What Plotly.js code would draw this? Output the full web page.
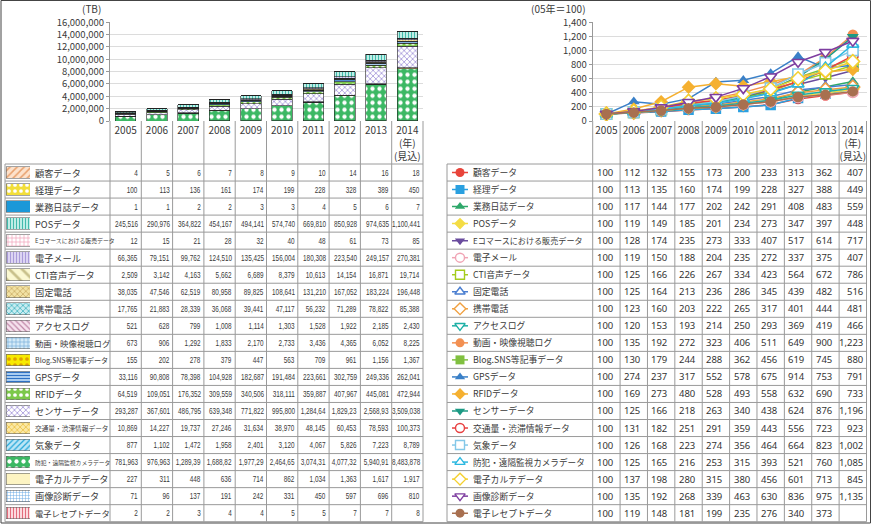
<!DOCTYPE html>
<html><head><meta charset="utf-8">
<script src="https://cdn.plot.ly/plotly-3.0.1.min.js"></script>
<style>html,body{margin:0;padding:0;background:#fff}#chart{width:872px;height:525px}</style>
</head><body><div id="chart"></div>
<script>
// ---------------- DATA ----------------
const years = ['2005','2006','2007','2008','2009','2010','2011','2012','2013','2014'];
const yearTickText = ['2005','2006','2007','2008','2009','2010','2011','2012','2013','2014<br>(年)<br>(見込)'];
const seriesNames = ['顧客データ','経理データ','業務日誌データ','POSデータ','Eコマースにおける販売データ','電子メール','CTI音声データ','固定電話','携帯電話','アクセスログ','動画・映像視聴ログ','Blog.SNS等記事データ','GPSデータ','RFIDデータ','センサーデータ','交通量・渋滞情報データ','気象データ','防犯・遠隔監視カメラデータ','電子カルテデータ','画像診断データ','電子レセプトデータ'];

// Data volume (TB)
const tbCustomer   = [4,5,6,7,8,9,10,14,16,18];
const tbAccounting = [100,113,136,161,174,199,228,328,389,450];
const tbDailyLog   = [1,1,2,2,3,3,4,5,6,7];
const tbPOS        = [245516,290976,364822,454167,494141,574740,669810,850928,974635,1100441];
const tbECommerce  = [12,15,21,28,32,40,48,61,73,85];
const tbEmail      = [66365,79151,99762,124510,135425,156004,180308,223540,249157,270381];
const tbCTI        = [2509,3142,4163,5662,6689,8379,10613,14154,16871,19714];
const tbFixedPhone = [38035,47546,62519,80958,89825,108641,131210,167052,183224,196448];
const tbMobile     = [17765,21883,28339,36068,39441,47117,56232,71289,78822,85388];
const tbAccessLog  = [521,628,799,1008,1114,1303,1528,1922,2185,2430];
const tbVideoLog   = [673,906,1292,1833,2170,2733,3436,4365,6052,8225];
const tbBlogSNS    = [155,202,278,379,447,563,709,961,1156,1367];
const tbGPS        = [33116,90808,78398,104928,182687,191484,223661,302759,249336,262041];
const tbRFID       = [64519,109051,176352,309559,340506,318111,359887,407967,445081,472944];
const tbSensor     = [293287,367601,486795,639348,771822,995800,1284640,1829230,2568930,3509038];
const tbTraffic    = [10869,14227,19737,27246,31634,38970,48145,60453,78593,100373];
const tbWeather    = [877,1102,1472,1958,2401,3120,4067,5826,7223,8789];
const tbCamera     = [781963,976963,1289390,1688820,1977290,2464650,3074310,4077320,5940910,8483878];
const tbEMR        = [227,311,448,636,714,862,1034,1363,1617,1917];
const tbImaging    = [71,96,137,191,242,331,450,597,696,810];
const tbReceipt    = [2,2,3,4,4,5,5,7,7,8];

// Index (2005 = 100)
const ixCustomer   = [100,112,132,155,173,200,233,313,362,407];
const ixAccounting = [100,113,135,160,174,199,228,327,388,449];
const ixDailyLog   = [100,117,144,177,202,242,291,408,483,559];
const ixPOS        = [100,119,149,185,201,234,273,347,397,448];
const ixECommerce  = [100,128,174,235,273,333,407,517,614,717];
const ixEmail      = [100,119,150,188,204,235,272,337,375,407];
const ixCTI        = [100,125,166,226,267,334,423,564,672,786];
const ixFixedPhone = [100,125,164,213,236,286,345,439,482,516];
const ixMobile     = [100,123,160,203,222,265,317,401,444,481];
const ixAccessLog  = [100,120,153,193,214,250,293,369,419,466];
const ixVideoLog   = [100,135,192,272,323,406,511,649,900,1223];
const ixBlogSNS    = [100,130,179,244,288,362,456,619,745,880];
const ixGPS        = [100,274,237,317,552,578,675,914,753,791];
const ixRFID       = [100,169,273,480,528,493,558,632,690,733];
const ixSensor     = [100,125,166,218,263,340,438,624,876,1196];
const ixTraffic    = [100,131,182,251,291,359,443,556,723,923];
const ixWeather    = [100,126,168,223,274,356,464,664,823,1002];
const ixCamera     = [100,125,165,216,253,315,393,521,760,1085];
const ixEMR        = [100,137,198,280,315,380,456,601,713,845];
const ixImaging    = [100,135,192,268,339,463,630,836,975,1135];
const ixReceipt    = [100,119,148,181,199,235,276,340,373,420]; // 2014 hidden by logo, estimated from chart

const tbSeries = [tbCustomer,tbAccounting,tbDailyLog,tbPOS,tbECommerce,tbEmail,tbCTI,tbFixedPhone,tbMobile,tbAccessLog,tbVideoLog,tbBlogSNS,tbGPS,tbRFID,tbSensor,tbTraffic,tbWeather,tbCamera,tbEMR,tbImaging,tbReceipt];
const ixSeries = [ixCustomer,ixAccounting,ixDailyLog,ixPOS,ixECommerce,ixEmail,ixCTI,ixFixedPhone,ixMobile,ixAccessLog,ixVideoLog,ixBlogSNS,ixGPS,ixRFID,ixSensor,ixTraffic,ixWeather,ixCamera,ixEMR,ixImaging,ixReceipt];

// ---------------- STYLES ----------------
const barStyles = [
  {shape:'/', bg:'#fde2cc', fg:'#e8a06c', size:5},
  {shape:'.', bg:'#f2de3a', fg:'#ffffff', size:6},
  {shape:'',  bg:'#1b98d8'},
  {shape:'|', bg:'#bfeee6', fg:'#36b4a6', size:3},
  {shape:'+', bg:'#ffffff', fg:'#f09cb4', size:4},
  {shape:'|', bg:'#dcd4f2', fg:'#a494d6', size:3},
  {shape:'\\', bg:'#fbf8d2', fg:'#c8c08a', size:9},
  {shape:'x', bg:'#f2e2a4', fg:'#c4a45c', size:4},
  {shape:'x', bg:'#c8ecf0', fg:'#28a8b8', size:4},
  {shape:'\\', bg:'#f6e2ee', fg:'#c088a8', size:4},
  {shape:'+', bg:'#d4eaf8', fg:'#74acd8', size:4},
  {shape:'.', bg:'#f8ea00', fg:'#e0a000', size:6},
  {shape:'-', bg:'#a8ccf0', fg:'#1f66c0', size:3},
  {shape:'.', bg:'#7cc84a', fg:'#ffffff', size:6},
  {shape:'x', bg:'#ffffff', fg:'#8e7cd0', size:4},
  {shape:'x', bg:'#fbe8a4', fg:'#e8b830', size:4},
  {shape:'/', bg:'#bce6f6', fg:'#24a6d8', size:4},
  {shape:'.', bg:'#3cb864', fg:'#ffffff', size:7},
  {shape:'',  bg:'#fdf4c2'},
  {shape:'+', bg:'#ffffff', fg:'#6aaae4', size:3},
  {shape:'|', bg:'#fcdade', fg:'#e06070', size:3}
];
const lineStyles = [
  {c:'#e8443a', s:'circle', f:true},
  {c:'#2aa0e0', s:'square', f:true},
  {c:'#2ea86a', s:'triangle-up', f:true},
  {c:'#f4dc44', s:'diamond', f:true},
  {c:'#6a4c9e', s:'triangle-down', f:true},
  {c:'#f0a4b4', s:'circle', f:false},
  {c:'#a4cc1c', s:'square', f:false},
  {c:'#4a7ed0', s:'triangle-up', f:false},
  {c:'#f0a040', s:'diamond', f:false},
  {c:'#1eb0a6', s:'triangle-down', f:false},
  {c:'#f29052', s:'circle', f:true},
  {c:'#80c040', s:'square', f:true},
  {c:'#3a80c8', s:'triangle-up', f:true},
  {c:'#f5b030', s:'diamond', f:true},
  {c:'#1c9a84', s:'triangle-down', f:true},
  {c:'#e84040', s:'circle', f:false},
  {c:'#84c8e8', s:'square', f:false},
  {c:'#2cb8e0', s:'triangle-up', f:false},
  {c:'#f4d030', s:'diamond', f:false},
  {c:'#7e3ea0', s:'triangle-down', f:false},
  {c:'#a87050', s:'circle', f:true}
];
const leftLabelSize = {4:5.9, 11:7.1, 15:6.7, 17:5.8, 10:8.4, 20:8.3};
const rightLabelSize = {4:8.1, 17:8.6};

// ---------------- GEOMETRY (pixels) ----------------
const W=872, H=525;
const px = x => x/W, py = y => 1 - y/H;
const L = {x0:110, x1:423, lab0:5};
const R = {x0:592.7, x1:866.5, lab0:447};
L.cw = (L.x1-L.x0)/10; R.cw = (R.x1-R.x0)/10;
const plotTop = 22.3, plotBot = 121, tTop = 164, tBot = 521.7;
const nRows = seriesNames.length;
const rowH = (tBot - tTop)/nRows;

const CJK = "'Noto Sans CJK JP', sans-serif";
const NUMF = "'Liberation Sans', Arial, sans-serif";
const TXT = '#3a3a3a';
const SQUEEZE = 0.74;

const traces = [];
// stacked bars (bottom = last row)
for (let i = nRows-1; i >= 0; i--) {
  const st = barStyles[i];
  const marker = {color: st.bg, line:{color:'#222', width:0.6}};
  if (st.shape) marker.pattern = {shape: st.shape, fgcolor: st.fg, bgcolor: st.bg, size: st.size, solidity: 0.3, fillmode:'replace'};
  traces.push({type:'bar', x: years, y: tbSeries[i], name: seriesNames[i], marker, width:0.66, xaxis:'x', yaxis:'y', hoverinfo:'skip'});
}
// left swatches
for (let i = 0; i < nRows; i++) {
  const st = barStyles[i];
  const marker = {color: st.bg, line:{color:'#666', width:0.6}};
  if (st.shape) marker.pattern = {shape: st.shape, fgcolor: st.fg, bgcolor: st.bg, size: st.size, solidity: 0.3, fillmode:'replace'};
  traces.push({type:'bar', orientation:'h', x:[1], y:[i], base:0, width:0.68, marker, xaxis:'x3', yaxis:'y3', hoverinfo:'skip', showlegend:false});
}
// lines
for (let i = 0; i < nRows; i++) {
  const st = lineStyles[i];
  const mk = st.f ? {symbol: st.s, size: 10.5, color: st.c, line:{width:0}} : {symbol: st.s, size: 10.5, color:'#ffffff', line:{color: st.c, width:1.6}};
  traces.push({type:'scatter', mode:'lines+markers', x: years, y: ixSeries[i], name: seriesNames[i], line:{color: st.c, width:1.5}, marker: mk, xaxis:'x2', yaxis:'y2', hoverinfo:'skip'});
}
// right legend markers
for (let i = 0; i < nRows; i++) {
  const st = lineStyles[i];
  const mk = st.f ? {symbol: st.s, size: 9, color: st.c, opacity:[0,1,0], line:{width:0}} : {symbol: st.s, size: 9, color:'#ffffff', opacity:[0,1,0], line:{color: st.c, width:1.4}};
  traces.push({type:'scatter', mode:'lines+markers', x:[0,0.5,1], y:[i,i,i], line:{color: st.c, width:1.5}, marker: mk, xaxis:'x4', yaxis:'y4', hoverinfo:'skip', showlegend:false});
}

// ---------------- SHAPES ----------------
const shapes = [];
const gridC = '#9a9a9a';
function vline(x, y0, y1, c){ shapes.push({type:'line', xref:'paper', yref:'paper', x0:px(x), x1:px(x), y0:py(y0), y1:py(y1), line:{color:c||gridC, width:1}}); }
function hline(y, x0, x1, c){ shapes.push({type:'line', xref:'paper', yref:'paper', x0:px(x0), x1:px(x1), y0:py(y), y1:py(y), line:{color:c||gridC, width:1}}); }
[L, R].forEach(T => {
  for (let k = 0; k <= 10; k++) vline(T.x0 + k*T.cw, plotBot, tBot);
  vline(T.lab0, tTop, tBot);
  for (let r = 0; r <= nRows; r++) hline(tTop + r*rowH, T.lab0, T.x1);
});
// outer frame
shapes.push({type:'rect', xref:'paper', yref:'paper', x0:px(1), x1:px(870.5), y0:py(523), y1:py(0.5), line:{color:'#444', width:1}});

// ---------------- ANNOTATIONS ----------------
const ann = [];
const narrowIdx = new Set();
ann.push({xref:'paper', yref:'paper', x:px(103), y:py(9), xanchor:'right', yanchor:'middle', text:'(TB)', showarrow:false, font:{family:CJK, size:10, color:TXT}});
ann.push({xref:'paper', yref:'paper', x:px(588), y:py(9), xanchor:'right', yanchor:'middle', text:'(05年＝100)', showarrow:false, font:{family:CJK, size:10, color:TXT}});
const fmt = v => v.toLocaleString('en-US');
for (let r = 0; r < nRows; r++) {
  const yc = py(tTop + (r+0.5)*rowH);
  ann.push({xref:'paper', yref:'paper', x:px(33), y:yc, xanchor:'left', yanchor:'middle', text:seriesNames[r], showarrow:false, font:{family:CJK, size:leftLabelSize[r]||9.2, color:TXT}});
  ann.push({xref:'paper', yref:'paper', x:px(471), y:yc, xanchor:'left', yanchor:'middle', text:seriesNames[r], showarrow:false, font:{family:CJK, size:rightLabelSize[r]||8.8, color:TXT}});
  for (let c = 0; c < 10; c++) {
    let s = fmt(tbSeries[r][c]);
    if (tbSeries[r][c] >= 1e6 && c < 9) s = s.slice(0,-1); // cell clipping in source
    ann.push({xref:'paper', yref:'paper', x:px(L.x0 + (c+1)*L.cw - 2), y:yc, xanchor:'right', yanchor:'middle', align:'right', text:s, showarrow:false, borderpad:0, font:{family:NUMF, size:8.6, color:TXT}});
    narrowIdx.add(ann.length-1);
    if (r === nRows-1 && c === 9) continue; // covered by logo in source
    const last = c === 9;
    ann.push({xref:'paper', yref:'paper', x:px(last ? R.x0 + 10*R.cw - 1.5 : R.x0 + c*R.cw + 2), y:yc, xanchor: last ? 'right' : 'left', yanchor:'middle', text:fmt(ixSeries[r][c]), showarrow:false, font:{family:"'Noto Sans', sans-serif", size:9.5, color:'#333'}});
  }
}

const axFont = {family:CJK, size:10, color:TXT};
const yFont = {family:CJK, size:9.5, color:TXT};
const layout = {
  width:W, height:H, margin:{l:0,r:0,t:0,b:0},
  paper_bgcolor:'#ffffff', plot_bgcolor:'rgba(0,0,0,0)',
  showlegend:false, barmode:'stack',
  xaxis:{domain:[px(L.x0), px(L.x1)], anchor:'y', type:'category', range:[-0.5,9.5], tickvals:years, ticktext:yearTickText, tickfont:axFont, tickangle:0, ticklabelstandoff:2, showgrid:false, showline:false, ticks:'', fixedrange:true},
  yaxis:{domain:[py(plotBot), py(plotTop)], anchor:'x', range:[0,16000000], dtick:2000000, tickformat:',d', tickfont:yFont, showgrid:true, gridcolor:'#dcdcdc', gridwidth:1, zeroline:false, showline:true, linecolor:'#999', ticks:'outside', ticklen:3, tickcolor:'#999', fixedrange:true},
  xaxis2:{domain:[px(R.x0), px(R.x1)], anchor:'y2', type:'category', range:[-0.5,9.5], tickvals:years, ticktext:yearTickText, tickfont:axFont, tickangle:0, ticklabelstandoff:2, showgrid:false, showline:false, ticks:'', fixedrange:true},
  yaxis2:{domain:[py(plotBot), py(plotTop)], anchor:'x2', range:[0,1400], dtick:200, tickformat:',d', tickfont:yFont, showgrid:true, gridcolor:'#dcdcdc', gridwidth:1, zeroline:false, showline:true, linecolor:'#999', ticks:'outside', ticklen:3, tickcolor:'#999', fixedrange:true},
  xaxis3:{domain:[px(6), px(30)], anchor:'y3', range:[0,1], visible:false, fixedrange:true},
  yaxis3:{domain:[py(tBot), py(tTop)], anchor:'x3', range:[nRows-0.5,-0.5], visible:false, fixedrange:true},
  xaxis4:{domain:[px(452), px(468)], anchor:'y4', range:[0,1], visible:false, fixedrange:true},
  yaxis4:{domain:[py(tBot), py(tTop)], anchor:'x4', range:[nRows-0.5,-0.5], visible:false, fixedrange:true},
  shapes, annotations: ann
};
Plotly.newPlot('chart', traces, layout, {displayModeBar:false, staticPlot:true}).then(gd => {
  // condense the left-table numbers (source uses a narrow face) and shrink their boxes to match
  gd.querySelectorAll('g.annotation').forEach(g => {
    const idx = +g.getAttribute('data-index');
    if (!narrowIdx.has(idx)) return;
    const t = g.querySelector('text');
    if (!t) return;
    const len = t.getComputedTextLength();
    const newLen = len * SQUEEZE;
    t.setAttribute('textLength', newLen.toFixed(2));
    t.setAttribute('lengthAdjust', 'spacingAndGlyphs');
    g.querySelectorAll('rect').forEach(rc => {
      const w = parseFloat(rc.getAttribute('width'));
      if (!isFinite(w) || w <= 0) return;
      const x = parseFloat(rc.getAttribute('x')) || 0;
      const nw = Math.max(1, w - (len - newLen));
      rc.setAttribute('x', (x + (w - nw)).toFixed(2));
      rc.setAttribute('width', nw.toFixed(2));
    });
  });
});
</script></body></html>
